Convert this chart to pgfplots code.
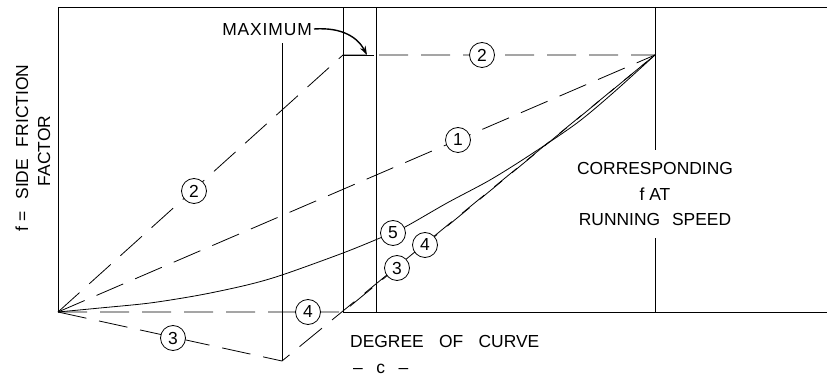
\documentclass[border=0pt]{standalone}
\usepackage{pgfplots}
\pgfplotsset{compat=1.18}
\usepackage{fontspec}
\setmainfont{Liberation Sans}
\usetikzlibrary{arrows.meta}
\tikzset{
  ln/.style={black,solid,line width=0.8bp},
  dsh/.style={black,line width=0.8bp,dash pattern=on 29bp off 13bp},
  circ/.style={circle,draw,fill=white,line width=0.8bp,minimum size=25bp,inner sep=0pt,font=\fontsize{17.5}{20}\selectfont},
  txt/.style={font=\fontsize{17.5}{26}\selectfont,inner sep=0pt,align=center},
}
\begin{document}
\begin{tikzpicture}
\begin{axis}[width=827bp,height=379bp,scale only axis,
  xmin=-58,xmax=769,ymin=-67,ymax=312,axis lines=none,clip=false,
  cycle list={{black,solid}},
]
% frame
\addplot[ln] coordinates {(0,0)(0,305)(769,305)};
\addplot[ln] coordinates {(285,0)(769,0)};
% vertical lines
\addplot[ln] coordinates {(224,-49)(224,269)};
\addplot[ln] coordinates {(285,0)(285,305)};
\addplot[ln] coordinates {(318,0)(318,305)};
\addplot[ln] coordinates {(597,0)(597,74)};
\addplot[ln] coordinates {(597,162)(597,305)};
% maximum segment
\addplot[ln] coordinates {(285,257)(316,257)};
% curve 1
\addplot[dsh] coordinates {(0,0)(597,257)};
% curve 2
\addplot[dsh] coordinates {(0,0)(285,257)(597,257)};
% curve 3
\addplot[dsh] coordinates {(0,0)(224,-49)(597,257)};
% curve 4
\addplot[dsh] coordinates {(0,0)(285,0)(597,257)};
% curve 5
\addplot[ln,smooth,tension=0.5] coordinates {(0,0)(42,4)(92,9)(142,17)(189,27)(224,37)(285,59)(322,74)(347,85)(389,109)(432,132)(472,157)(519,189)(555,219)(597,257)};
% circled labels
\node[circ] at (axis cs:136,121) {2};
\node[circ] at (axis cs:424,257) {2};
\node[circ] at (axis cs:400,172) {1};
\node[circ] at (axis cs:335,79) {5};
\node[circ] at (axis cs:367,67) {4};
\node[circ] at (axis cs:339,44) {3};
\node[circ] at (axis cs:250,0) {4};
\node[circ] at (axis cs:115,-26) {3};
% arrow
\draw[line width=1.4bp,-{Stealth[length=9bp,width=6bp]}] (axis cs:256,283) .. controls (axis cs:285,285) and (axis cs:300,274) .. (axis cs:309,257);
% texts
\node[txt,anchor=east] at (axis cs:254,282) {\addfontfeature{LetterSpace=5}MAXIMUM};
\node[txt,anchor=west] at (axis cs:292,-29) {DEGREE\hspace{0.6em} OF\hspace{0.6em} CURVE};
\node[txt,anchor=west] at (axis cs:295,-57) {--\hspace{0.5em} c\hspace{0.5em} --};
\node[txt] at (axis cs:597,118) {CORRESPONDING\\f AT\\RUNNING\hspace{0.4em} SPEED};
\node[txt,rotate=90] at (axis cs:-36,164) {f =\hspace{0.4em} SIDE\hspace{0.4em} FRICTION};
\node[txt,rotate=90] at (axis cs:-14,161) {FACTOR};
\end{axis}
\pgfresetboundingbox
\path[use as bounding box] (current axis.south west) rectangle (current axis.north east);
\end{tikzpicture}
\end{document}
